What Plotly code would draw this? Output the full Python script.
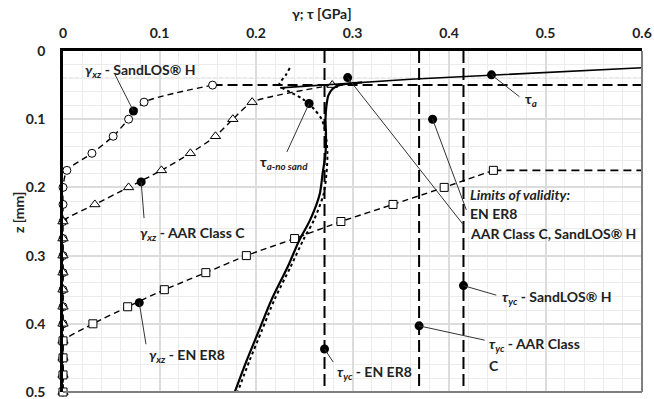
import plotly.graph_objects as go

# ---------------- data ----------------
z_steps = [0.05, 0.075, 0.1, 0.125, 0.15, 0.175, 0.2, 0.225, 0.25, 0.275, 0.3, 0.325,
           0.35, 0.375, 0.4, 0.425, 0.45, 0.475, 0.5]
gamma_sandlos = [0.155, 0.084, 0.068, 0.052, 0.030, 0.004, 0, 0, 0, 0, 0, 0, 0, 0, 0, 0, 0, 0, 0]
gamma_aar = [0.279, 0.196, 0.176, 0.158, 0.132, 0.102, 0.068, 0.033, 0, 0, 0, 0, 0, 0, 0, 0, 0, 0, 0]
z_en = [0.175, 0.2, 0.225, 0.25, 0.275, 0.3, 0.325, 0.35, 0.375, 0.4, 0.425, 0.45, 0.475, 0.5]
gamma_en = [0.446, 0.395, 0.342, 0.288, 0.240, 0.190, 0.148, 0.105, 0.067, 0.031, 0, 0, 0, 0]

# extensions of the strain curves beyond the chart range
sand_ext_x = [0.155, 0.6]
sand_ext_z = [0.05, 0.05]
en_ext_x = [0.446, 0.6]
en_ext_z = [0.175, 0.175]

# shear stress tau_a (with sand)
tau_a_line_x = [0.6, 0.444, 0.36, 0.225]
tau_a_line_z = [0.0245, 0.035, 0.0415, 0.054]
tau_a_x = [0.31, 0.295, 0.285, 0.279, 0.275, 0.273, 0.272, 0.2725, 0.272, 0.269, 0.266,
           0.256, 0.245, 0.233, 0.216, 0.203, 0.190, 0.178]
tau_a_z = [0.046, 0.048, 0.051, 0.056, 0.065, 0.08, 0.1, 0.12, 0.15, 0.18, 0.21,
           0.248, 0.277, 0.316, 0.365, 0.41, 0.455, 0.5]
# shear stress without sand
tau_ns_x = [0.235, 0.231, 0.224, 0.235, 0.248, 0.260, 0.268, 0.272, 0.274, 0.273, 0.27,
            0.26, 0.249, 0.236, 0.219, 0.206, 0.193, 0.181]
tau_ns_z = [0.025, 0.035, 0.05, 0.06, 0.07, 0.085, 0.1, 0.12, 0.15, 0.18, 0.21,
            0.248, 0.277, 0.316, 0.365, 0.41, 0.455, 0.5]

# yield shear stresses (limits of validity)
tau_yc = {"EN ER8": 0.271, "AAR Class C": 0.369, "SandLOS® H": 0.415}
ref_depths = [0.04, 0.1]

x_ticks = [0, 0.1, 0.2, 0.3, 0.4, 0.5, 0.6]
x_tick_text = ["0", "0.1", "0.2", "0.3", "0.4", "0.5", "0.6"]
z_ticks = [0, 0.1, 0.2, 0.3, 0.4, 0.5]
z_tick_text = ["0", "0.1", "0.2", "0.3", "0.4", "0.5"]

# label dots
dot_x = [0.073, 0.081, 0.079, 0.444, 0.255, 0.383, 0.295, 0.415, 0.369, 0.271]
dot_z = [0.088, 0.192, 0.369, 0.035, 0.077, 0.100, 0.039, 0.344, 0.403, 0.437]
# leader line ends
lead_x = [0.054, 0.084, 0.086, 0.473, 0.232, 0.418, 0.415, 0.449, 0.437, 0.280]
lead_z = [0.035, 0.245, 0.430, 0.067, 0.148, 0.233, 0.255, 0.358, 0.424, 0.456]

FONT = "Lato"
fig = go.Figure()

# long dashed vertical limits
for name, xv in tau_yc.items():
    fig.add_trace(go.Scatter(x=[xv, xv], y=[0, 0.5], mode="lines",
                             line=dict(color="black", width=2, dash="12px,5px"),
                             hoverinfo="skip", showlegend=False))

dash_curve = "6px,4px"
# strain curves
fig.add_trace(go.Scatter(x=sand_ext_x, y=sand_ext_z, mode="lines",
                         line=dict(color="black", width=2, dash="10px,5px"), showlegend=False))
fig.add_trace(go.Scatter(x=en_ext_x, y=en_ext_z, mode="lines",
                         line=dict(color="black", width=1.6, dash="8px,5px"), showlegend=False))

fig.add_trace(go.Scatter(x=gamma_sandlos, y=z_steps, mode="lines+markers",
                         line=dict(color="black", width=1.4, dash=dash_curve, shape="spline", smoothing=0.6),
                         marker=dict(symbol="circle", size=8, color="white", line=dict(color="black", width=1)),
                         cliponaxis=False, showlegend=False))
fig.add_trace(go.Scatter(x=gamma_aar, y=z_steps, mode="lines+markers",
                         line=dict(color="black", width=1.4, dash=dash_curve, shape="spline", smoothing=0.6),
                         marker=dict(symbol="triangle-up", size=9, color="white", line=dict(color="black", width=1)),
                         cliponaxis=False, showlegend=False))
fig.add_trace(go.Scatter(x=gamma_en, y=z_en, mode="lines+markers",
                         line=dict(color="black", width=1.4, dash=dash_curve, shape="spline", smoothing=0.4),
                         marker=dict(symbol="square", size=8, color="white", line=dict(color="black", width=1)),
                         cliponaxis=False, showlegend=False))

# tau curves
fig.add_trace(go.Scatter(x=tau_ns_x, y=tau_ns_z, mode="lines",
                         line=dict(color="black", width=2, dash="dot", shape="spline", smoothing=0.8),
                         showlegend=False))
fig.add_trace(go.Scatter(x=tau_a_line_x, y=tau_a_line_z, mode="lines",
                         line=dict(color="black", width=1.6), showlegend=False))
fig.add_trace(go.Scatter(x=tau_a_x, y=tau_a_z, mode="lines",
                         line=dict(color="black", width=2.2, shape="spline", smoothing=0.8),
                         showlegend=False))

# leader lines
for x0, z0, x1, z1 in zip(dot_x, dot_z, lead_x, lead_z):
    fig.add_shape(type="line", x0=x0, y0=z0, x1=x1, y1=z1, xref="x", yref="y",
                  line=dict(color="#333333", width=1), layer="above")
fig.add_trace(go.Scatter(x=dot_x, y=dot_z, mode="markers",
                         marker=dict(color="black", size=9), showlegend=False))

# reference dashed gray lines
for d in ref_depths:
    fig.add_shape(type="line", x0=0, x1=0.6, y0=d, y1=d, xref="x", yref="y",
                  line=dict(color="#a6a6a6", width=1, dash="4px,2px"), layer="below")

# right and bottom border (gray)
fig.add_shape(type="line", x0=1, x1=1, y0=0, y1=1, xref="paper", yref="paper",
              line=dict(color="#7f7f7f", width=2))
fig.add_shape(type="line", x0=0, x1=1, y0=0, y1=0, xref="paper", yref="paper",
              line=dict(color="#7f7f7f", width=2))

tf = dict(family=FONT, size=14, color="#222222", weight="bold")
af = dict(family=FONT, size=14, color="#222222", weight="bold")

labels = [
    (0.0207, 0.0279, "<i>γ<sub>xz</sub></i> - SandLOS® H"),
    (0.0777, 0.267, "<i>γ<sub>xz</sub></i> - AAR Class C"),
    (0.087, 0.446, "<i>γ<sub>xz</sub></i> - EN ER8"),
    (0.4767, 0.0718, "τ<sub><i>a</i></sub>"),
    (0.202, 0.164, "τ<sub><i>a-no sand</i></sub>"),
    (0.4197, 0.211, "<i>Limits of validity:</i>"),
    (0.4197, 0.238, "EN ER8"),
    (0.4197, 0.268, "AAR Class C, SandLOS® H"),
    (0.453, 0.362, "<i>τ<sub>yc</sub></i> - SandLOS® H"),
    (0.439, 0.431, "<i>τ<sub>yc</sub></i> - AAR Class"),
    (0.439, 0.461, "C"),
    (0.2816, 0.4707, "<i>τ<sub>yc</sub></i> - EN ER8"),
]
for x, z, t in labels:
    fig.add_annotation(x=x, y=z, xref="x", yref="y", text=t, showarrow=False,
                       xanchor="left", yanchor="middle", font=af)

fig.add_annotation(x=(322 - 63) / 579, y=1 + 38 / 341, xref="paper", yref="paper",
                   text="γ; τ [GPa]", showarrow=False, font=tf, xanchor="center", yanchor="middle")
fig.add_annotation(x=(18 - 63) / 579, y=1 - (213 - 51) / 341, xref="paper", yref="paper",
                   text="z [mm]", showarrow=False, font=tf, textangle=-90,
                   xanchor="center", yanchor="middle")

fig.update_layout(
    width=654, height=399,
    margin=dict(l=63, r=12, t=51, b=7, autoexpand=False),
    paper_bgcolor="white", plot_bgcolor="white",
    xaxis=dict(side="top", range=[0, 0.6], tickmode="array", tickvals=x_ticks,
               ticktext=x_tick_text, tickfont=tf, ticklabeloverflow="allow", automargin=False,
               showgrid=True, gridcolor="#dcdcdc", gridwidth=1.5,
               minor=dict(dtick=0.02, tick0=0, showgrid=True, gridcolor="#ececec", gridwidth=1),
               showline=True, linecolor="black", linewidth=2.5, zeroline=False,
               ticks="", ticklabelstandoff=5),
    yaxis=dict(range=[0.5, 0], tickmode="array", tickvals=z_ticks, ticktext=z_tick_text,
               tickfont=tf, ticklabeloverflow="allow", automargin=False,
               showgrid=True, gridcolor="#dcdcdc", gridwidth=1.5,
               minor=dict(dtick=0.02, tick0=0, showgrid=True, gridcolor="#ececec", gridwidth=1),
               showline=True, linecolor="black", linewidth=2.5, zeroline=False,
               ticks="", ticklabelstandoff=12),
)

fig.write_html("out.html")
